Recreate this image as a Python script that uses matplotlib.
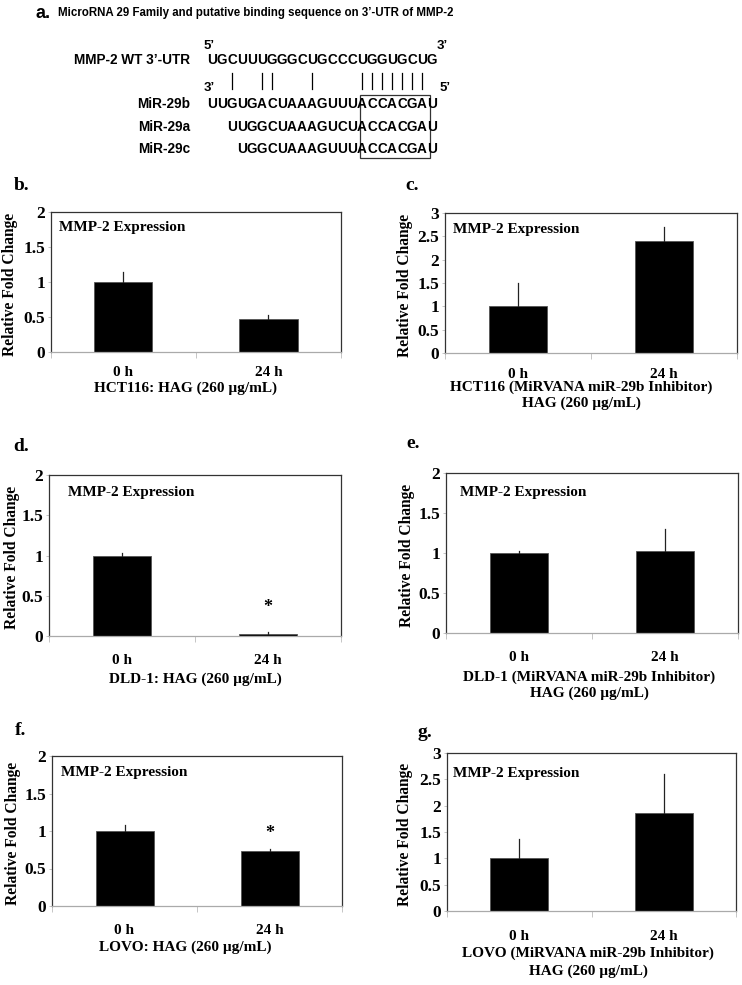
import numpy as np
import matplotlib
matplotlib.use('Agg')
import matplotlib.pyplot as plt
from matplotlib.patches import Rectangle

W, H = 742, 985

# ---- data ----
categories = ['0 h', '24 h']

mean_b = [1.00, 0.47]
err_b = [0.15, 0.06]
mean_c = [1.00, 2.40]
err_c = [0.49, 0.30]
mean_d = [1.00, 0.03]
err_d = [0.03, 0.02]
mean_e = [1.00, 1.02]
err_e = [0.03, 0.28]
mean_f = [1.00, 0.74]
err_f = [0.08, 0.02]
mean_g = [1.00, 1.87]
err_g = [0.36, 0.73]

ymax_b, ymax_c, ymax_d, ymax_e, ymax_f, ymax_g = 2, 3, 2, 2, 2, 3

group_b = ['HCT116: HAG (260 µg/mL)']
group_c = ['HCT116 (MiRVANA miR-29b Inhibitor)', 'HAG (260 µg/mL)']
group_d = ['DLD-1: HAG (260 µg/mL)']
group_e = ['DLD-1 (MiRVANA miR-29b Inhibitor)', 'HAG (260 µg/mL)']
group_f = ['LOVO: HAG (260 µg/mL)']
group_g = ['LOVO (MiRVANA miR-29b Inhibitor)', 'HAG (260 µg/mL)']

# significance marks: (category index, y)
star_d = (1, 0.35)
star_f = (1, 0.97)

utr_seq = 'UGCUUUGGGCUGCCCUGGUGCUG'
mir29b = 'UUGUGACUAAAGUUUACCACGAU'
mir29a = 'UUGGCUAAAGUCUACCACGAU'
mir29c = 'UGGCUAAAGUUUACCACGAU'
pair_idx = [2, 5, 6, 10, 15, 16, 17, 18, 19, 20, 21]

SERIF = 'Liberation Serif'
SANS = 'Liberation Sans'


def fx(x):
    return x / W


def fy(y):
    return 1 - y / H


fig = plt.figure(figsize=(W / 100, H / 100), dpi=100)

# ---- panel a: sequence diagram ----
fig.text(fx(35), fy(13), 'a.', family=SANS, fontsize=13, fontweight='bold', va='center')
fig.text(fx(58), fy(13), 'MicroRNA 29 Family and putative binding sequence on 3\u2019-UTR of MMP-2',
         family=SANS, fontsize=8.3, fontweight='bold', va='center')

pitch = 10
right_edge = 437
seq_fs = 9.8


def draw_seq(seq, y):
    n = len(seq)
    for i, ch in enumerate(seq):
        cx = right_edge - pitch * (n - i) + pitch / 2
        fig.text(fx(cx), fy(y), ch, family=SANS, fontsize=seq_fs, fontweight='bold',
                 ha='center', va='center')


fig.text(fx(190), fy(60), 'MMP-2 WT 3\u2019-UTR', family=SANS, fontsize=seq_fs,
         fontweight='bold', ha='right', va='center')
draw_seq(utr_seq, 60)
fig.text(fx(204), fy(46), '5\u2019', family=SANS, fontsize=9.5, fontweight='bold', va='center')
fig.text(fx(437), fy(46), '3\u2019', family=SANS, fontsize=9.5, fontweight='bold', va='center')

top_start = right_edge - pitch * len(utr_seq)
for i in pair_idx:
    cx = top_start + pitch * i + pitch / 2
    fig.add_artist(plt.Line2D([fx(cx), fx(cx)], [fy(73), fy(89)], color='black', lw=0.9))

fig.text(fx(204), fy(88), '3\u2019', family=SANS, fontsize=9.5, fontweight='bold', va='center')
fig.text(fx(440), fy(88), '5\u2019', family=SANS, fontsize=9.5, fontweight='bold', va='center')

for name, seq, y in [('MiR-29b', mir29b, 104), ('MiR-29a', mir29a, 127), ('MiR-29c', mir29c, 149)]:
    fig.text(fx(190), fy(y), name, family=SANS, fontsize=seq_fs, fontweight='bold',
             ha='right', va='center')
    draw_seq(seq, y)

fig.add_artist(Rectangle((fx(360), fy(158)), fx(430) - fx(360), fy(95) - fy(158),
                         fill=False, edgecolor='#333333', lw=0.9, transform=fig.transFigure))

# ---- bar panels ----
# label, data, box (left, right, top, bottom px), ylabel right x, text pos (axes),
# label pos, category offset, group y, group x, line step, star
panels = [
    ('b.', mean_b, err_b, ymax_b, group_b, (51, 341, 212, 352), 18, (0.028, 0.89), (14, 190), 21, 388, 186, 16, None),
    ('c.', mean_c, err_c, ymax_c, group_c, (445, 737, 213, 353), 413, (0.027, 0.88), (405, 190), 22, 387, 581, 16, None),
    ('d.', mean_d, err_d, ymax_d, group_d, (49, 341, 475, 636), 20, (0.065, 0.89), (13, 451), 25, 679, 195, 16, star_d),
    ('e.', mean_e, err_e, ymax_e, group_e, (446, 738, 473, 633), 415, (0.048, 0.88), (406, 448), 25, 677, 589, 16, None),
    ('f.', mean_f, err_f, ymax_f, group_f, (52, 342, 756, 906), 21, (0.03, 0.89), (15, 735), 25, 947, 185, 16, star_f),
    ('g.', mean_g, err_g, ymax_g, group_g, (447, 736, 753, 911), 413, (0.02, 0.87), (417, 737), 26, 953, 588, 18, None),
]

x = np.arange(len(categories))
for (lab, means, errs, ymax, group, box, ylab_x, txt_pos, lab_pos,
     cat_off, group_y, group_x, step, star) in panels:
    l, r, t, b = box
    ax = fig.add_axes([fx(l), fy(b), (r - l) / W, (b - t) / H])
    ax.bar(x, means, width=0.4, color='black', edgecolor='#555555', lw=0.6, zorder=2)
    for xi, m, e in zip(x, means, errs):
        ax.plot([xi, xi], [m, m + e], color='#222222', lw=0.9, zorder=3)
    ax.set_xlim(-0.5, 1.5)
    ax.set_ylim(0, ymax)
    ticks = np.arange(0, ymax + 0.01, 0.5)
    ax.set_yticks(ticks)
    ax.set_yticklabels(['%g' % v for v in ticks])
    ax.set_xticks(x)
    ax.set_xticklabels(categories)
    ax.set_xticks([-0.5, 0.5, 1.5], minor=True)
    pad_pt = (cat_off - 7) * 0.72
    ax.tick_params(axis='x', which='major', length=0, pad=pad_pt, labelsize=11)
    ax.tick_params(axis='x', which='minor', length=4, color='#bbbbbb', width=0.6)
    ax.tick_params(axis='y', length=2, color='#bbbbbb', width=0.6, pad=2, labelsize=12.5)
    for tl in ax.get_xticklabels() + ax.get_yticklabels():
        tl.set_family(SERIF)
        tl.set_fontweight('bold')
    for s in ['left', 'top', 'right']:
        ax.spines[s].set_color('#333333')
        ax.spines[s].set_linewidth(0.9)
    ax.spines['bottom'].set_color('#aaaaaa')
    ax.spines['bottom'].set_linewidth(0.9)
    ax.text(txt_pos[0], txt_pos[1], 'MMP-2 Expression', transform=ax.transAxes,
            family=SERIF, fontsize=11, fontweight='bold', va='center')
    ax.set_ylabel('Relative Fold Change', family=SERIF, fontsize=11.2, fontweight='bold')
    ax.yaxis.set_label_coords(fx(ylab_x), fy((t + b) / 2 + 2), transform=fig.transFigure)
    if star is not None:
        ax.text(star[0], star[1], '*', family=SERIF, fontsize=13, fontweight='bold',
                ha='center', va='center')
    fig.text(fx(lab_pos[0]), fy(lab_pos[1]), lab, family=SERIF, fontsize=14,
             fontweight='bold', va='baseline')
    for k, line in enumerate(group):
        fig.text(fx(group_x), fy(group_y + step * k), line, family=SERIF, fontsize=11,
                 fontweight='bold', ha='center', va='center')

fig.savefig('out.png', dpi=100)
